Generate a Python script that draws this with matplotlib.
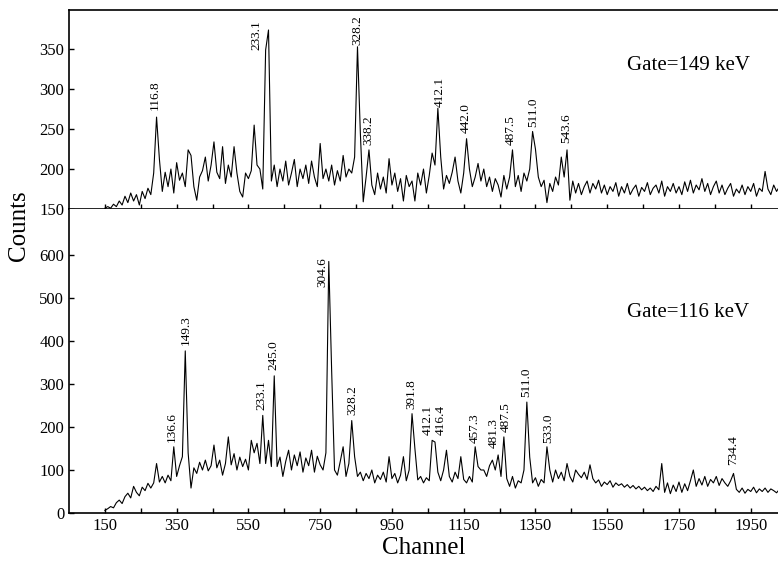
import numpy as np
import matplotlib.pyplot as plt

plt.rcParams['font.family'] = ['Liberation Serif', 'DejaVu Serif']

# channel grid of the spectra (every 8th channel)
channel = np.arange(150, 2031, 8)

# Gate = 149 keV spectrum (upper panel)
gate149_counts = [
    151, 153, 151, 156, 153, 160, 155, 166, 158, 170,
    160, 168, 155, 172, 163, 176, 168, 195, 265, 212,
    172, 196, 178, 200, 170, 208, 186, 195, 178, 224,
    217, 178, 161, 190, 198, 215, 185, 205, 234, 196,
    188, 228, 182, 205, 190, 228, 195, 172, 165, 195,
    188, 198, 255, 205, 200, 175, 349, 374, 185, 205,
    178, 200, 185, 210, 180, 195, 212, 178, 200, 188,
    205, 182, 210, 190, 178, 232, 188, 200, 185, 205,
    180, 198, 185, 217, 190, 200, 195, 215, 353, 245,
    159, 190, 224, 180, 168, 195, 175, 190, 170, 213,
    180, 195, 172, 188, 160, 192, 178, 185, 160, 195,
    180, 200, 170, 192, 220, 205, 276, 215, 175, 192,
    182, 196, 215, 185, 170, 195, 238, 200, 178, 190,
    207, 185, 200, 178, 190, 172, 188, 180, 165, 192,
    175, 190, 224, 178, 192, 172, 195, 185, 200, 247,
    225, 190, 178, 186, 158, 182, 172, 190, 180, 215,
    190, 224, 161, 185, 170, 182, 168, 178, 185, 170,
    182, 175, 186, 170, 180, 168, 178, 172, 183, 166,
    178, 170, 182, 168, 175, 180, 166, 177, 172, 183,
    168, 176, 180, 170, 185, 166, 178, 172, 182, 170,
    178, 168, 184, 172, 186, 170, 180, 174, 188, 172,
    182, 168, 178, 185, 170, 180, 168, 176, 182, 166,
    175, 170, 180, 168, 178, 172, 182, 166, 176, 172,
    197, 175, 168, 180, 172, 178,
]

# Gate = 116 keV spectrum (lower panel)
gate116_counts = [
    6, 10, 15, 12, 24, 30, 22, 38, 46, 35,
    62, 48, 40, 60, 52, 69, 58, 70, 115, 72,
    85, 70, 88, 75, 154, 85, 110, 131, 377, 140,
    58, 105, 92, 118, 100, 123, 98, 110, 158, 105,
    123, 88, 115, 177, 112, 138, 100, 130, 108, 125,
    100, 169, 140, 162, 115, 227, 115, 169, 108, 319,
    108, 130, 85, 120, 146, 100, 135, 110, 142, 95,
    128, 110, 146, 95, 132, 112, 100, 140, 585, 331,
    100, 88, 120, 154, 85, 115, 215, 131, 85, 95,
    75, 92, 80, 100, 70, 88, 78, 95, 72, 131,
    80, 92, 70, 88, 131, 75, 100, 231, 150, 77,
    85, 70, 82, 75, 169, 165, 95, 75, 100, 146,
    85, 72, 95, 80, 131, 78, 70, 85, 72, 154,
    108, 100, 100, 85, 110, 123, 100, 135, 85, 177,
    80, 62, 85, 58, 75, 70, 100, 258, 130, 70,
    82, 62, 78, 70, 154, 100, 72, 100, 80, 95,
    75, 115, 85, 72, 100, 90, 82, 95, 78, 112,
    80, 70, 77, 62, 72, 66, 75, 60, 70, 64,
    68, 60, 66, 58, 64, 56, 62, 54, 60, 52,
    58, 50, 62, 54, 115, 48, 70, 45, 65, 50,
    72, 48, 68, 52, 75, 100, 62, 80, 65, 85,
    62, 78, 70, 85, 64, 80, 70, 62, 75, 92,
    55, 48, 58, 46, 55, 50, 60, 47, 56, 50,
    58, 48, 56, 52, 47, 55,
]

# peak energies (keV) with label anchor (channel, counts)
top_labels = ['116.8', '233.1', '328.2', '338.2', '412.1', '442.0', '487.5', '511.0', '543.6']
top_label_ch = [290, 571, 855, 883, 1082, 1156, 1282, 1343, 1437]
top_label_y = [274, 349, 355, 230, 278, 245, 230, 253, 233]

bot_labels = ['136.6', '149.3', '233.1', '245.0', '304.6', '328.2', '391.8', '412.1',
              '416.4', '457.3', '481.3', '487.5', '511.0', '533.0', '734.4']
bot_label_ch = [336, 376, 587, 620, 757, 840, 1005, 1049, 1085, 1182, 1233, 1268, 1324, 1386, 1900]
bot_label_y = [166, 391, 240, 333, 526, 228, 241, 181, 181, 162, 150, 189, 270, 162, 112]

fig = plt.figure(figsize=(7.78, 5.62), dpi=100)
ax1 = fig.add_axes([0.0887, 0.6281, 0.9113, 0.3541])
ax2 = fig.add_axes([0.0887, 0.0872, 0.9113, 0.5409])

ax1.plot(channel, gate149_counts, color='black', lw=0.8)
ax2.plot(channel, gate116_counts, color='black', lw=0.8)

for lab, x, y in zip(top_labels, top_label_ch, top_label_y):
    ax1.text(x, y, lab, rotation=90, ha='center', va='bottom', fontsize=9.5)
for lab, x, y in zip(bot_labels, bot_label_ch, bot_label_y):
    ax2.text(x, y, lab, rotation=90, ha='center', va='bottom', fontsize=9.5)

ax1.text(1606, 329, 'Gate=149 keV', ha='left', va='center', fontsize=15)
ax2.text(1606, 467, 'Gate=116 keV', ha='left', va='center', fontsize=15)

ax1.set_ylim(150, 399)
ax1.set_yticks([150, 200, 250, 300, 350])
ax2.set_ylim(0, 707)
ax2.set_yticks([0, 100, 200, 300, 400, 500, 600])

for ax in (ax1, ax2):
    ax.set_xlim(50, 2026)
    ax.set_xticks(np.arange(150, 2000, 200))
    ax.set_xticks(np.arange(250, 2000, 200), minor=True)
    ax.tick_params(which='both', direction='in', length=3.5, width=1, labelsize=12)
    ax.spines['right'].set_visible(False)
    for sp in ax.spines.values():
        sp.set_linewidth(1.2)
ax2.spines['top'].set_visible(False)

fig.text(0.025, 0.598, 'Counts', rotation=90, ha='center', va='center', fontsize=18)
ax2.set_xlabel('Channel', fontsize=18, labelpad=2)

plt.savefig('out.png', dpi=100)
